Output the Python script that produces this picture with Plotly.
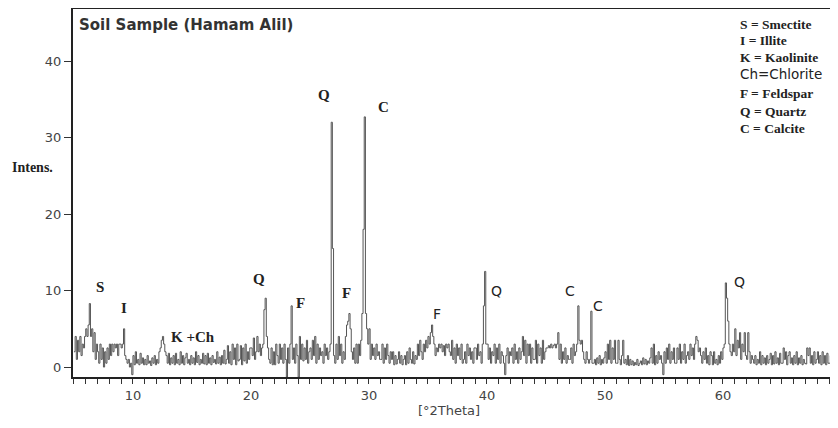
import plotly.graph_objects as go

# ---- data -------------------------------------------------------------
THETA_START = 5.0   # first 2-theta value
THETA_STEP = 0.1    # instrument step

intensity = [
    2, 4, 1, 3.5, 2, 4, 1.5, 3, 2.5, 4,              # 5
    5, 4, 5.5, 8.3, 4, 5, 2, 4.5, 1, 3,              # 6
    2, 0.5, 3, 1, 2.5, 0, 2, 0.5, 2.5, 1,            # 7
    3, 1.5, 3, 2, 3, 2.5, 3, 1.5, 3, 3,              # 8
    2.5, 3, 5, 1.5, 1, 0.5, 1, 0, 0.5, -1,           # 9
    1.5, 0.3, 2, 0.5, 1, 0.3, 1.8, 0.5, 1.2, 0.3,    # 10
    1, 0.3, 1.5, 0.5, 0.8, 0.2, 1.2, 0.5, 1.5, 0.3,  # 11
    1, 0.5, 2, 2.5, 3.5, 4, 3, 2, 1.5, 0.5,          # 12
    1.8, 0.3, 1.2, 0.5, 1.5, 0.3, 1.8, 0.5, 1, 0.3,  # 13
    2, 0.5, 1.5, 0.3, 1.2, 1.8, 0.5, 1, 0.3, 1.5,    # 14
    0.5, 1.2, 0.3, 2, 0.6, 1.5, 0.3, 1, 0.5, 1.8,    # 15
    0.4, 1.5, 0.3, 1.8, 0.5, 1.2, 0.3, 1.5, 0.6, 1,  # 16
    0.4, 2, 0.5, 1.3, 0.3, 1.5, 0.5, 2.2, 0.4, 1,    # 17
    2.8, 0.5, 2, 0.3, 3, 1, 2.5, 0.3, 3, 0.8,        # 18
    1, 2.8, 0.3, 2.5, 0.8, 3, 0.5, 2, 1, 2.5,        # 19
    2.5, 1.5, 3.8, 1, 2, 4, 2, 3, 1.5, 2.5,          # 20
    3, 7.5, 9, 4, 2.5, 1, 0.5, 2.5, 0.3, 2,          # 21
    0.3, 3, 1.5, 0.5, 3, 1, 2.5, 0.5, 3, 1,          # 22
    -1.3, 2.5, 0.5, 3, 8, 1, 2.5, 0.5, 3, 1.5,       # 23
    -1.3, 4, 1, 3, 0.8, 2.5, 1, 3.5, 0.5, 2,         # 24
    2.5, 1, 3.5, 1.5, 4, 0.5, 3, 1, 2.5, 1.5,        # 25
    2, 0.5, 3, 1.5, 2.5, 1, 2, 3, 32, 15.5,          # 26
    1.5, 0.5, 3, 1, 4, 1.5, 3, 0.5, 2, 1,            # 27
    4, 5.5, 6, 7, 5, 2, 1, 2.5, 0.5, 3,              # 28
    0.5, 3, 1.5, 3.5, 7, 18, 32.7, 7, 5, 3,          # 29
    5, 1, 3, 1.5, 2.5, 1, 3, 1.5, 2, 1,              # 30
    1, 3, 0.5, 2.5, 1, 3, 1.5, 0.5, 2, 1,            # 31
    2, 0.3, 1.5, 0.4, 1, 2, 0.5, 1.5, 0.3, 1,        # 32
    1.5, 0.3, 2, 0.5, 2.5, 1, 0.5, 2, 0.4, 1.5,      # 33
    1, 3, 1.5, 3.5, 2, 1, 3, 2, 3.5, 2.5,            # 34
    4, 3, 4.5, 5.5, 4, 3, 1.5, 2.5, 2, 3,            # 35
    2.5, 3, 2, 2.8, 1.5, 3, 2.5, 3, 2, 1.5,          # 36
    3.5, 1, 2.5, 0.5, 3, 1.5, 2.5, 1, 3, 0.5,        # 37
    1, 2, 0.5, 3, 1.5, 2.5, 1, 2, 0.5, 2.5,          # 38
    2.5, 1, 3, 1.5, 2, 0.5, 3, 8, 12.5, 3,           # 39
    3, 1, 2.5, 0.5, 2, 1.5, 3, 0.5, 2.5, 1,          # 40
    3, 0.5, 2, 1.5, 0.5, -1, 1.5, 2.5, 0.5, 2,       # 41
    1.5, 2.5, 0.5, 3, 1, 2, 0.5, 2.5, 1, 2,          # 42
    4, 1.5, 3.5, 0.5, 3, 1.5, 3, 0.5, 2.5, 1,        # 43
    1, 3.5, 0.5, 3, 1.5, 2.5, 0.5, 3.5, 1, 2,        # 44
    2.5, 2.5, 2.8, 2.5, 3, 2.5, 2.8, 3, 2.5, 3,      # 45
    4.5, 1, 3, 0.5, 2, 1, 2.5, 0.5, 1.5, 1,          # 46
    1, 2.5, 0.5, 3, 1.5, 2, 3, 8, 3.5, 3,            # 47
    3.5, 2, 1, 0.5, 2, 1, 0.5, 1, 7.3, 0.5,          # 48
    0.5, 1, 0.3, 1.2, 0.5, 1.5, 0.3, 1, 0.5, 1.2,    # 49
    2, 0.5, 3, 1, 3.5, 0.5, 2.5, 1, 3.5, 0.5,        # 50
    0.5, 3.5, 1, 0.3, 1.5, 3.5, 0.5, 1, 0.3, 1.5,    # 51
    0.2, 1, 0.3, 0.8, 0.2, 0.6, 0.3, 1, 0.2, 0.5,    # 52
    0.8, 0.3, 1.2, 0.4, 1, 0.3, 0.8, 0.5, 1.2, 2.5,  # 53
    0.5, 3, 0.3, 1.5, 0.5, 2, 1, 1.5, 0.5, -1,       # 54
    2, 0.5, 2.5, 1, 3, 0.5, 2, 1, 2.5, 0.5,          # 55
    0.5, 2.5, 1, 3, 0.5, 2, 1, 3, 0.5, 1.5,          # 56
    2, 1, 3, 1.5, 2.5, 1, 3, 4, 3.5, 2,              # 57
    2.5, 1.5, 0.5, 2, 1, 2.5, 0.5, 1.5, 0.3, 2,      # 58
    1.5, 0.3, 2, 0.5, 1, 0.3, 1.5, 0.5, 2, 1,        # 59
    2.5, 3, 11, 9, 6, 3, 2, 1.5, 3, 2,               # 60
    5, 1.5, 3.5, 2.5, 4.5, 1, 3, 2, 4.5, 1.5,        # 61
    1, 4.5, 2, 0.5, 1.5, 1, 0.5, 1.5, 0.3, 1,        # 62
    0.5, 2, 0.3, 1.5, 0.5, 1.2, 0.3, 1.5, 0.5, 1,    # 63
    1.8, 0.3, 1.5, 0.4, 2, 0.5, 1.2, 0.3, 1.8, 0.5,  # 64
    0.5, 2.5, 1, 2, 0.3, 1.5, 2, 0.5, 1.2, 0.3,      # 65
    1.5, 0.5, 2, 0.3, 1.2, 0.5, 1.5, 0.3, 1, 0.5,    # 66
    0.4, 2.5, 1.5, 2.5, 0.5, 1.5, 0.3, 2, 0.5, 1,    # 67
    2, 0.5, 1.5, 0.3, 2, 0.5, 1.5, 0.3, 1.8, 0.5,    # 68
    0.5, 1.5, 0.3, 1.8, 1, 1.5, 0.3, 2, 0.5, 1,      # 69
]

two_theta = [round(THETA_START + i * THETA_STEP, 2) for i in range(len(intensity))]

# peak labels: text, 2theta, intensity, serif?
label_text = ["S", "I", "K +Ch", "Q", "F", "Q", "F", "C", "F", "Q", "C", "C", "Q"]
label_x = [7.2, 9.2, 15.1, 20.7, 24.2, 26.2, 28.1, 31.2, 35.8, 40.8, 47.0, 49.4, 61.4]
label_y = [10.5, 7.7, 3.9, 11.5, 8.4, 35.5, 9.7, 34.0, 7.0, 10.0, 10.0, 8.0, 11.1]
label_serif = [True, True, True, True, True, True, True, True, False, False, False, False, False]

legend_lines = ["S = Smectite", "I = Illite", "K = Kaolinite", "Ch=Chlorite",
                "F = Feldspar", "Q = Quartz", "C = Calcite"]
legend_pixel_y = [24, 41, 57, 74, 93, 111, 128]

x_tick_vals = [10, 20, 30, 40, 50, 60]
y_tick_vals = [0, 10, 20, 30, 40]

# ---- figure -----------------------------------------------------------
# the page body has an 8px default margin, so the figure starts at (8, 8)
OFF = 8
W, H = 838 - OFF, 428 - OFF
ML, MR, MT, MB = 65, 0, 1, 51
PW, PH = W - ML - MR, H - MT - MB
PLOT_LEFT, PLOT_TOP = OFF + ML, OFF + MT


def px_x(px):
    return (px - PLOT_LEFT) / PW


def px_y(py):
    return 1 - (py - PLOT_TOP) / PH


fig = go.Figure()
fig.add_trace(go.Scatter(
    x=two_theta, y=intensity, mode="lines",
    line=dict(color="#555555", width=1, shape="hv"),
    hoverinfo="skip", showlegend=False,
))

SERIF = "Liberation Serif, Times New Roman, serif"
SANS = "DejaVu Sans, Verdana, sans-serif"

for t, x, y, s in zip(label_text, label_x, label_y, label_serif):
    fig.add_annotation(
        x=x, y=y, xref="x", yref="y", text=f"<b>{t}</b>" if s else t,
        showarrow=False, xanchor="center", yanchor="middle",
        font=dict(family=SERIF if s else SANS, size=15 if s else 14, color="#222"),
    )

for t, py in zip(legend_lines, legend_pixel_y):
    is_sans = t.startswith("Ch")
    fig.add_annotation(
        x=px_x(738), y=px_y(py), xref="paper", yref="paper",
        text=t if is_sans else f"<b>{t}</b>", showarrow=False,
        xanchor="left", yanchor="middle",
        font=dict(family=SANS if is_sans else SERIF, size=13.5 if is_sans else 13.5, color="#222"),
    )

fig.add_annotation(
    x=px_x(77), y=px_y(25), xref="paper", yref="paper",
    text="<b>Soil Sample (Hamam Alil)</b>", showarrow=False,
    xanchor="left", yanchor="middle",
    font=dict(family=SANS, size=15, color="#333"),
)
fig.add_annotation(
    x=px_x(10), y=px_y(167), xref="paper", yref="paper",
    text="<b>Intens.</b>", showarrow=False, xanchor="left", yanchor="middle",
    font=dict(family=SERIF, size=14, color="#222"),
)
fig.add_annotation(
    x=px_x(449), y=px_y(410), xref="paper", yref="paper",
    text="[°2Theta]", showarrow=False, xanchor="center", yanchor="middle",
    font=dict(family=SANS, size=13, color="#444"),
)

fig.update_layout(
    width=W, height=H,
    margin=dict(l=ML, r=MR, t=MT, b=MB, pad=0),
    paper_bgcolor="white", plot_bgcolor="white",
    xaxis=dict(
        range=[4.92, 69.75], tickvals=x_tick_vals, ticks="outside", ticklen=5,
        tickcolor="#333", tickwidth=1,
        minor=dict(dtick=1, ticks="outside", ticklen=5, tickcolor="#333"),
        showline=True, linecolor="#222", linewidth=2, mirror=True,
        showgrid=False, zeroline=False,
        tickfont=dict(family=SANS, size=13, color="#444"),
    ),
    yaxis=dict(
        range=[-1.3, 46.8], tickvals=y_tick_vals, ticks="outside", ticklen=7,
        tickcolor="#333", tickwidth=1,
        showline=True, linecolor="#222", linewidth=2,
        showgrid=False, zeroline=False,
        tickfont=dict(family=SANS, size=13, color="#444"),
    ),
)

fig.write_html("out.html")
